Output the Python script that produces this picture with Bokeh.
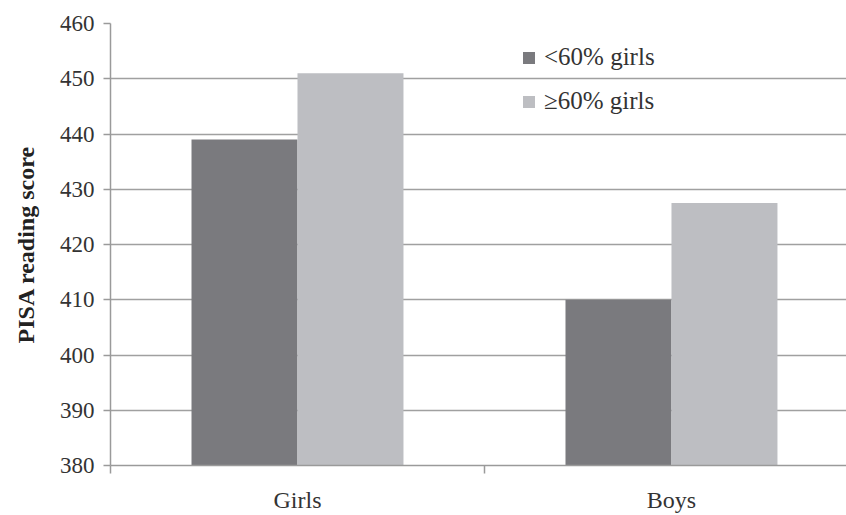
import numpy as np
from bokeh.plotting import figure
from bokeh.models import ColumnDataSource, Range1d, FixedTicker, Legend, LegendItem
from bokeh.transform import dodge
from bokeh.embed import file_html
from bokeh.resources import INLINE

categories = ["Girls", "Boys"]
series_names = ["<60% girls", "\u226560% girls"]
below60 = [439, 410]
above60 = [451, 427.5]
y_ticks = [380, 390, 400, 410, 420, 430, 440, 450, 460]

colors = ["#7a7a7e", "#bdbec2"]
FONT = "Liberation Serif"

src = ColumnDataSource(dict(
    pos=np.arange(len(categories)) + 0.5,
    below=below60,
    above=above60,
))

p = figure(width=846, height=515, output_backend="svg", toolbar_location=None,
           x_range=Range1d(0, 1.968), y_range=Range1d(380, 460),
           min_border_left=110, min_border_right=0, min_border_top=23,
           min_border_bottom=49)
p.outline_line_color = None
p.background_fill_color = "white"
p.border_fill_color = "white"

bw = 0.2834
r1 = p.vbar(x=dodge("pos", -bw / 2), top="below", bottom=380, width=bw, source=src,
            fill_color=colors[0], line_color=None)
r2 = p.vbar(x=dodge("pos", bw / 2), top="above", bottom=380, width=bw, source=src,
            fill_color=colors[1], line_color=None)

# x axis
p.xaxis.ticker = FixedTicker(ticks=list(np.arange(len(categories)) + 0.5),
                             minor_ticks=list(np.arange(len(categories) + 1)))
p.xaxis.major_label_overrides = {float(i + 0.5): c for i, c in enumerate(categories)}
p.xaxis.major_tick_line_color = None
p.xaxis.major_tick_out = 0
p.xaxis.major_tick_in = 0
p.xaxis.minor_tick_line_color = "#9a9a9a"
p.xaxis.minor_tick_line_width = 1.5
p.xaxis.minor_tick_out = 8
p.xaxis.minor_tick_in = 0
p.xaxis.axis_line_color = "#9a9a9a"
p.xaxis.axis_line_width = 1.5
p.xaxis.major_label_text_font = FONT
p.xaxis.major_label_text_font_size = "24px"
p.xaxis.major_label_text_color = "#333333"
p.xaxis.major_label_standoff = 13
p.xgrid.grid_line_color = None

# y axis
p.yaxis.ticker = FixedTicker(ticks=y_ticks)
p.yaxis.minor_tick_line_color = None
p.yaxis.major_tick_line_color = "#9a9a9a"
p.yaxis.major_tick_line_width = 1.5
p.yaxis.major_tick_out = 7
p.yaxis.major_tick_in = 0
p.yaxis.axis_line_color = "#9a9a9a"
p.yaxis.axis_line_width = 1.5
p.yaxis.major_label_text_font = FONT
p.yaxis.major_label_text_font_size = "23px"
p.yaxis.major_label_text_color = "#333333"
p.yaxis.major_label_standoff = 9
p.yaxis.axis_label = "PISA reading score"
p.yaxis.axis_label_text_font = FONT
p.yaxis.axis_label_text_font_style = "bold"
p.yaxis.axis_label_text_font_size = "24px"
p.yaxis.axis_label_text_color = "#222222"
p.yaxis.axis_label_standoff = 18
p.ygrid.grid_line_color = "#a0a0a0"
p.ygrid.grid_line_width = 1.5

legend = Legend(items=[LegendItem(label=series_names[0], renderers=[r1]),
                       LegendItem(label=series_names[1], renderers=[r2])],
                location=(411, 350))
legend.border_line_color = None
legend.background_fill_alpha = 0
legend.padding = 0
legend.margin = 0
legend.spacing = 16
legend.glyph_width = 15
legend.glyph_height = 15
legend.label_standoff = 8
legend.label_text_font = FONT
legend.label_text_font_size = "25px"
legend.label_text_color = "#333333"
p.add_layout(legend, "center")

open("out.html", "w").write(file_html(p, INLINE))
